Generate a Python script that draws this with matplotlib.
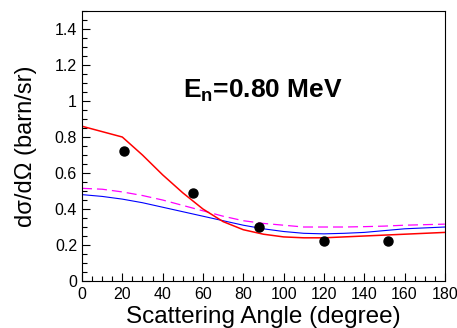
import numpy as np
import matplotlib.pyplot as plt
from matplotlib.ticker import MultipleLocator

plt.rcParams['font.family'] = ['Liberation Sans', 'DejaVu Sans']
plt.rcParams['mathtext.fontset'] = 'custom'
plt.rcParams['mathtext.rm'] = 'Liberation Sans'
plt.rcParams['mathtext.bf'] = 'Liberation Sans:bold'

# measured points
exp_angle = [21, 55, 88, 120, 152]
exp_xs = [0.72, 0.49, 0.30, 0.22, 0.22]

# calculated curves (read every 10 degrees)
angle = [0, 10, 20, 30, 40, 50, 60, 70, 80, 90, 100, 110, 120, 130, 140, 150, 160, 170, 180]
red_xs = [0.86, 0.83, 0.80, 0.70, 0.59, 0.49, 0.40, 0.33, 0.285, 0.26, 0.245, 0.24, 0.24,
          0.245, 0.25, 0.255, 0.26, 0.265, 0.27]
blue_xs = [0.48, 0.47, 0.455, 0.435, 0.41, 0.385, 0.36, 0.335, 0.31, 0.29, 0.275, 0.265,
           0.262, 0.265, 0.27, 0.28, 0.29, 0.295, 0.30]
mag_xs = [0.515, 0.51, 0.495, 0.475, 0.45, 0.42, 0.39, 0.36, 0.335, 0.32, 0.31, 0.30, 0.30,
          0.30, 0.302, 0.305, 0.31, 0.313, 0.316]

fig = plt.figure(figsize=(4.57, 3.28), dpi=100)
ax = fig.add_axes([0.1794, 0.1433, 0.794, 0.823])

ax.plot(angle, mag_xs, color='#ff00ff', lw=0.9, dashes=(8, 4))
ax.plot(angle, blue_xs, color='#0000ff', lw=0.8)
ax.plot(angle, red_xs, color='#ff0000', lw=1.1)
ax.plot(exp_angle, exp_xs, 'o', color='black', ms=6.5)

ax.text(50, 1.017, r'$\mathbf{E_n}$=0.80 MeV', fontsize=19, fontweight='bold')

ax.set_xlim(0, 180)
ax.set_ylim(0, 1.5)
ax.xaxis.set_major_locator(MultipleLocator(20))
ax.xaxis.set_minor_locator(MultipleLocator(5))
ax.yaxis.set_minor_locator(MultipleLocator(0.05))
ax.set_yticks([0, 0.2, 0.4, 0.6, 0.8, 1.0, 1.2, 1.4])
ax.set_yticklabels(['0', '0.2', '0.4', '0.6', '0.8', '1', '1.2', '1.4'])
ax.tick_params(which='both', direction='in', top=False, right=False, labelsize=11.5)
ax.tick_params(which='major', length=6, width=0.8)
ax.tick_params(which='minor', length=3.5, width=0.8)
ax.tick_params(axis='x', pad=4)
ax.tick_params(axis='y', pad=3.5)

ax.set_xlabel('Scattering Angle (degree)', fontsize=17.5, labelpad=3)
ax.set_ylabel('dσ/dΩ (barn/sr)', fontsize=17, labelpad=13)

fig.savefig('out.png', dpi=100)
